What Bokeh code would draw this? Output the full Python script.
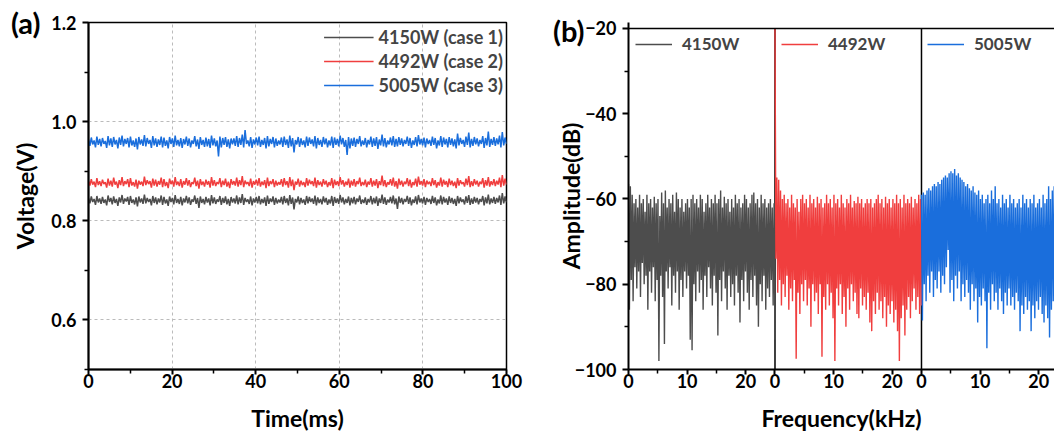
import numpy as np
from bokeh.plotting import figure
from bokeh.layouts import row
from bokeh.models import (FixedTicker, Legend, LegendItem, Span, LinearAxis, Range1d,
                          PrintfTickFormatter)
from bokeh.embed import file_html
from bokeh.resources import INLINE

FONT = "Lato"
C_BLACK = "#4D4D4D"
C_RED = "#F03E3E"
C_BLUE = "#1A6EDC"

# ---------------- panel (a) data: voltage (V), 300 samples over 0-100 ms ----------------
v_4150 = [
    0.846, 0.835, 0.849, 0.838, 0.844, 0.832, 0.850, 0.837, 0.845, 0.834,
    0.848, 0.836, 0.843, 0.831, 0.851, 0.838, 0.846, 0.833, 0.849, 0.836,
    0.844, 0.830, 0.847, 0.837, 0.852, 0.834, 0.845, 0.839, 0.848, 0.832,
    0.850, 0.836, 0.843, 0.833, 0.847, 0.829, 0.849, 0.837, 0.845, 0.834,
    0.853, 0.835, 0.846, 0.838, 0.844, 0.831, 0.850, 0.836, 0.847, 0.833,
    0.845, 0.837, 0.851, 0.832, 0.848, 0.835, 0.843, 0.830, 0.849, 0.838,
    0.846, 0.833, 0.852, 0.836, 0.844, 0.834, 0.848, 0.831, 0.845, 0.837,
    0.850, 0.835, 0.847, 0.832, 0.843, 0.838, 0.851, 0.834, 0.846, 0.826,
    0.849, 0.836, 0.844, 0.833, 0.848, 0.837, 0.845, 0.831, 0.852, 0.835,
    0.847, 0.834, 0.843, 0.838, 0.850, 0.832, 0.846, 0.836, 0.849, 0.833,
    0.844, 0.830, 0.848, 0.837, 0.845, 0.835, 0.851, 0.833, 0.847, 0.836,
    0.854, 0.832, 0.846, 0.838, 0.843, 0.834, 0.849, 0.831, 0.845, 0.837,
    0.848, 0.835, 0.850, 0.833, 0.844, 0.836, 0.847, 0.830, 0.851, 0.834,
    0.845, 0.838, 0.849, 0.832, 0.846, 0.835, 0.843, 0.837, 0.848, 0.833,
    0.850, 0.836, 0.845, 0.831, 0.852, 0.834, 0.847, 0.823, 0.844, 0.837,
    0.849, 0.833, 0.846, 0.836, 0.843, 0.832, 0.850, 0.835, 0.848, 0.838,
    0.845, 0.834, 0.851, 0.831, 0.847, 0.836, 0.844, 0.833, 0.849, 0.837,
    0.846, 0.832, 0.843, 0.835, 0.850, 0.830, 0.848, 0.836, 0.845, 0.834,
    0.852, 0.837, 0.847, 0.833, 0.844, 0.836, 0.849, 0.831, 0.846, 0.835,
    0.848, 0.833, 0.845, 0.838, 0.851, 0.834, 0.843, 0.836, 0.847, 0.832,
    0.844, 0.837, 0.850, 0.833, 0.846, 0.835, 0.849, 0.830, 0.845, 0.836,
    0.853, 0.834, 0.847, 0.832, 0.843, 0.837, 0.848, 0.835, 0.851, 0.833,
    0.845, 0.824, 0.849, 0.836, 0.846, 0.833, 0.844, 0.838, 0.850, 0.834,
    0.847, 0.831, 0.843, 0.836, 0.849, 0.833, 0.852, 0.837, 0.845, 0.835,
    0.848, 0.832, 0.846, 0.838, 0.844, 0.834, 0.850, 0.836, 0.847, 0.831,
    0.843, 0.835, 0.851, 0.833, 0.848, 0.837, 0.845, 0.832, 0.849, 0.836,
    0.846, 0.834, 0.844, 0.830, 0.850, 0.835, 0.847, 0.838, 0.843, 0.833,
    0.849, 0.836, 0.852, 0.832, 0.845, 0.834, 0.848, 0.837, 0.846, 0.833,
    0.844, 0.838, 0.850, 0.831, 0.847, 0.835, 0.853, 0.833, 0.845, 0.836,
    0.848, 0.834, 0.846, 0.837, 0.851, 0.832, 0.856, 0.835, 0.849, 0.837,
]
v_4492 = [
    0.881, 0.871, 0.884, 0.873, 0.879, 0.868, 0.886, 0.872, 0.880, 0.870,
    0.883, 0.874, 0.878, 0.867, 0.885, 0.871, 0.881, 0.869, 0.887, 0.873,
    0.879, 0.866, 0.882, 0.872, 0.888, 0.870, 0.880, 0.874, 0.884, 0.868,
    0.886, 0.871, 0.878, 0.869, 0.883, 0.865, 0.881, 0.873, 0.879, 0.870,
    0.889, 0.872, 0.882, 0.874, 0.880, 0.867, 0.885, 0.871, 0.883, 0.869,
    0.880, 0.873, 0.887, 0.868, 0.884, 0.870, 0.878, 0.866, 0.885, 0.874,
    0.881, 0.869, 0.888, 0.872, 0.879, 0.870, 0.884, 0.867, 0.880, 0.873,
    0.886, 0.871, 0.882, 0.868, 0.878, 0.874, 0.887, 0.870, 0.881, 0.865,
    0.884, 0.872, 0.879, 0.869, 0.883, 0.873, 0.880, 0.867, 0.888, 0.871,
    0.882, 0.870, 0.878, 0.874, 0.886, 0.868, 0.881, 0.872, 0.885, 0.869,
    0.879, 0.866, 0.884, 0.873, 0.880, 0.871, 0.887, 0.869, 0.882, 0.872,
    0.890, 0.868, 0.881, 0.874, 0.878, 0.870, 0.885, 0.867, 0.880, 0.873,
    0.883, 0.871, 0.886, 0.869, 0.879, 0.872, 0.882, 0.866, 0.887, 0.870,
    0.880, 0.874, 0.884, 0.868, 0.881, 0.871, 0.878, 0.873, 0.884, 0.869,
    0.886, 0.872, 0.880, 0.867, 0.888, 0.870, 0.883, 0.862, 0.879, 0.873,
    0.885, 0.869, 0.881, 0.872, 0.878, 0.868, 0.886, 0.871, 0.883, 0.874,
    0.880, 0.870, 0.887, 0.867, 0.882, 0.872, 0.879, 0.869, 0.884, 0.873,
    0.881, 0.868, 0.878, 0.871, 0.886, 0.866, 0.883, 0.872, 0.880, 0.870,
    0.888, 0.873, 0.882, 0.869, 0.879, 0.872, 0.885, 0.867, 0.881, 0.871,
    0.884, 0.869, 0.880, 0.874, 0.887, 0.870, 0.878, 0.872, 0.883, 0.868,
    0.879, 0.873, 0.886, 0.869, 0.881, 0.871, 0.884, 0.866, 0.880, 0.872,
    0.891, 0.870, 0.882, 0.868, 0.878, 0.873, 0.884, 0.871, 0.887, 0.869,
    0.880, 0.865, 0.885, 0.872, 0.881, 0.869, 0.879, 0.874, 0.886, 0.870,
    0.883, 0.867, 0.878, 0.872, 0.885, 0.869, 0.889, 0.873, 0.880, 0.871,
    0.884, 0.868, 0.881, 0.874, 0.879, 0.870, 0.886, 0.872, 0.882, 0.867,
    0.878, 0.871, 0.887, 0.869, 0.883, 0.873, 0.880, 0.868, 0.885, 0.872,
    0.881, 0.870, 0.879, 0.866, 0.886, 0.871, 0.882, 0.874, 0.878, 0.869,
    0.885, 0.872, 0.890, 0.868, 0.880, 0.870, 0.884, 0.873, 0.881, 0.869,
    0.879, 0.874, 0.886, 0.867, 0.882, 0.871, 0.888, 0.869, 0.880, 0.872,
    0.884, 0.870, 0.881, 0.873, 0.887, 0.868, 0.892, 0.871, 0.885, 0.873,
]
v_5005 = [
    0.964, 0.951, 0.968, 0.954, 0.962, 0.948, 0.970, 0.953, 0.965, 0.950,
    0.967, 0.955, 0.961, 0.947, 0.971, 0.952, 0.966, 0.949, 0.969, 0.954,
    0.963, 0.946, 0.968, 0.953, 0.972, 0.950, 0.965, 0.955, 0.967, 0.948,
    0.970, 0.952, 0.962, 0.949, 0.966, 0.944, 0.969, 0.954, 0.964, 0.951,
    0.973, 0.950, 0.967, 0.955, 0.963, 0.947, 0.971, 0.952, 0.966, 0.949,
    0.964, 0.953, 0.970, 0.948, 0.968, 0.951, 0.962, 0.946, 0.969, 0.955,
    0.966, 0.949, 0.972, 0.952, 0.963, 0.950, 0.967, 0.947, 0.965, 0.954,
    0.970, 0.951, 0.966, 0.948, 0.962, 0.955, 0.971, 0.950, 0.964, 0.945,
    0.969, 0.953, 0.963, 0.949, 0.968, 0.950, 0.965, 0.947, 0.972, 0.952,
    0.966, 0.950, 0.962, 0.930, 0.970, 0.948, 0.967, 0.953, 0.969, 0.949,
    0.964, 0.946, 0.966, 0.954, 0.966, 0.951, 0.971, 0.949, 0.967, 0.953,
    0.974, 0.948, 0.983, 0.955, 0.962, 0.950, 0.969, 0.947, 0.964, 0.954,
    0.968, 0.952, 0.970, 0.949, 0.963, 0.953, 0.967, 0.946, 0.971, 0.950,
    0.965, 0.955, 0.969, 0.948, 0.966, 0.951, 0.962, 0.954, 0.968, 0.949,
    0.970, 0.953, 0.964, 0.947, 0.972, 0.950, 0.967, 0.938, 0.963, 0.954,
    0.969, 0.949, 0.966, 0.953, 0.962, 0.948, 0.970, 0.951, 0.968, 0.955,
    0.964, 0.950, 0.971, 0.946, 0.967, 0.953, 0.963, 0.949, 0.969, 0.954,
    0.966, 0.948, 0.962, 0.952, 0.970, 0.947, 0.968, 0.953, 0.965, 0.950,
    0.972, 0.954, 0.967, 0.949, 0.963, 0.933, 0.969, 0.946, 0.966, 0.951,
    0.968, 0.949, 0.965, 0.955, 0.971, 0.950, 0.962, 0.953, 0.967, 0.948,
    0.963, 0.954, 0.970, 0.949, 0.966, 0.951, 0.969, 0.945, 0.964, 0.952,
    0.974, 0.950, 0.967, 0.948, 0.962, 0.954, 0.968, 0.952, 0.971, 0.949,
    0.965, 0.950, 0.969, 0.953, 0.966, 0.950, 0.963, 0.955, 0.970, 0.951,
    0.967, 0.947, 0.962, 0.953, 0.969, 0.950, 0.973, 0.954, 0.965, 0.952,
    0.968, 0.948, 0.966, 0.955, 0.963, 0.951, 0.970, 0.953, 0.967, 0.946,
    0.962, 0.952, 0.971, 0.949, 0.968, 0.954, 0.965, 0.948, 0.969, 0.953,
    0.966, 0.950, 0.964, 0.946, 0.976, 0.952, 0.967, 0.955, 0.963, 0.949,
    0.970, 0.953, 0.978, 0.948, 0.965, 0.951, 0.969, 0.954, 0.966, 0.950,
    0.963, 0.955, 0.971, 0.947, 0.967, 0.952, 0.980, 0.949, 0.965, 0.953,
    0.969, 0.951, 0.966, 0.954, 0.972, 0.948, 0.979, 0.952, 0.968, 0.955,
]
labels_a = ["4150W (case 1)", "4492W (case 2)", "5005W (case 3)"]
x_ticks_a = [0, 20, 40, 60, 80, 100]
x_minor_a = [10, 30, 50, 70, 90]
y_ticks_a = [0.6, 0.8, 1.0, 1.2]
y_minor_a = [0.5, 0.7, 0.9, 1.1]

# ---------------- panel (b) data: spectrum amplitude (dB), 0-25 kHz per sub-panel ----------------
amp_4150 = [
    -56.5, -86, -57, -79, -59, -84, -61, -76, -60, -81, -62, -77, -59, -83, -61, -75,
    -60, -80, -63, -78, -59, -86, -61, -77, -60, -82, -62, -76, -59.5, -84, -61, -79,
    -60, -98, -64, -78, -58.5, -83, -61, -94, -58, -77, -62, -81, -60, -76, -61, -85,
    -59, -78, -63, -82, -58.5, -77, -60, -86, -62, -79, -60, -83, -63, -77, -61, -81,
    -60, -78, -62, -93, -60, -95.5, -59, -80, -61, -84, -60, -77, -62, -82, -59, -79,
    -60, -86, -63, -78, -61, -83, -59, -76, -62, -81, -60, -85, -61, -78, -59, -82,
    -61, -92, -60, -79, -58, -84, -62, -77, -59.5, -81, -61, -86, -60, -78, -63, -83,
    -60, -80, -62, -85, -59, -78, -61, -82, -60, -89, -62, -79, -61, -84, -59, -77,
    -60, -82, -62, -86, -61, -79, -59, -83, -58.5, -78, -61, -85, -60, -90, -62, -80,
    -59, -84, -61, -78, -60, -86, -62, -81, -61, -83, -60, -79, -62, -85, -61, -93,
]
amp_4492 = [
    -20, -74, -55, -82, -55.5, -79, -58, -85, -60, -80, -59, -83, -61, -78, -60, -86,
    -62, -81, -59, -84, -61, -79, -62, -97.5, -60, -82, -63, -87, -60, -80, -59, -84,
    -61, -79, -60, -85, -62, -81, -59, -90, -61, -80, -60, -84, -62, -82, -59.5, -87,
    -61, -80, -60, -97, -62, -83, -61, -86, -59, -80, -61, -85, -60, -82, -62, -88,
    -59, -98, -61, -81, -60, -85, -62, -80, -59, -87, -61, -83, -62, -90, -60, -81,
    -61, -86, -59, -80, -62, -84, -60.5, -82, -61, -87, -59.5, -88, -61, -81, -60, -85,
    -62, -83, -61, -86, -60, -82, -61, -89, -60, -91, -62, -84, -61, -87, -60, -82,
    -59, -86, -61, -84, -60, -88, -62, -83, -59.5, -90, -61, -85, -60, -87, -62, -84,
    -60, -89, -61, -86, -59, -91, -61, -98, -60, -88, -62, -85, -59, -92, -61, -86,
    -60, -83, -61, -88, -59.5, -84, -62, -81, -60, -86, -61, -83, -59, -87, -60, -85,
]
amp_5005 = [
    -59, -88.5, -58.5, -80, -59, -84, -58, -78, -57.5, -82, -58, -77, -57, -83, -56.5, -79,
    -57, -81, -56, -77, -56.5, -82, -55.5, -78, -55, -80, -54.5, -76, -55, -72, -54, -82,
    -53.5, -79, -54, -84, -53, -78, -54.5, -81, -54, -77, -55, -84, -55.5, -80, -56, -83,
    -57, -79, -56.5, -82, -57.5, -86, -58, -80, -57, -84, -58.5, -81, -59, -89, -58, -83,
    -60, -85, -59, -81, -61, -84, -60, -95, -59, -82, -61, -86, -58, -80, -60, -84,
    -57, -82, -61, -86, -60, -81, -62, -84, -59, -87, -61, -82, -60, -85, -62, -81,
    -59, -85, -61, -83, -60, -86, -62, -82, -61, -84, -60, -91, -62, -85, -59, -87,
    -61, -83, -60, -86, -62, -84, -60, -91, -61, -85, -59, -88, -62, -84, -61, -86,
    -60, -83, -62, -87, -59, -89, -61, -85, -60, -88, -57, -92.5, -60, -86, -58, -84,
    -57, -87, -58, -81,
]
labels_b = ["4150W", "4492W", "5005W"]
seg_span = 25.0               # kHz per sub-panel
freq_step = 25.0 / 159        # spacing of spectrum samples (kHz)
y_min_b, y_max_b = -100, -20
y_ticks_b = [-100, -80, -60, -40, -20]
y_minor_b = [-90, -70, -50, -30]
x_ticks_b = [0, 10, 20, 25, 35, 45, 50, 60, 70]
x_tick_labels_b = ["0", "10", "20", "0", "10", "20", "0", "10", "20"]
x_minor_b = [5, 15, 30, 40, 55, 65]

H = 436
TOP = 22
BOTTOM = 67


def style_axes(p):
    for ax in (p.xaxis[0], p.yaxis[0]):
        ax.axis_line_width = 2
        ax.axis_line_color = "black"
        ax.major_tick_line_width = 2
        ax.minor_tick_line_width = 1.5
        ax.major_tick_in = 0
        ax.minor_tick_in = 0
        ax.minor_tick_out = 4
        ax.major_label_text_font = FONT
        ax.major_label_text_font_style = "bold"
        ax.major_label_text_font_size = "18px"
        ax.major_label_text_color = "black"
        ax.axis_label_text_font = FONT
        ax.axis_label_text_font_style = "bold"
        ax.axis_label_text_font_size = "23px"
        ax.axis_label_text_color = "black"
    p.xaxis.major_tick_out = 5
    p.xaxis.major_label_standoff = -1
    p.xaxis.axis_label_standoff = 13
    p.yaxis.major_tick_out = 6
    p.yaxis.major_label_standoff = 6


def tag_axis(tick, text, standoff):
    return LinearAxis(ticker=FixedTicker(ticks=[tick]), major_label_overrides={tick: text},
                      axis_line_color=None, major_tick_line_color=None, minor_tick_line_color=None,
                      major_tick_in=0, major_tick_out=0, minor_tick_in=0, minor_tick_out=0,
                      major_label_standoff=standoff, major_label_text_font=FONT,
                      major_label_text_font_style="bold", major_label_text_font_size="29px",
                      major_label_text_color="black")


# ---------------- panel (a) ----------------
p1 = figure(width=540, height=H, x_range=Range1d(0, 100), y_range=Range1d(0.5, 1.2),
            output_backend="svg", toolbar_location=None,
            min_border_left=88, min_border_right=34, min_border_top=TOP, min_border_bottom=BOTTOM)
p1.outline_line_color = "black"
p1.outline_line_width = 1.5
style_axes(p1)
p1.xaxis.ticker = FixedTicker(ticks=x_ticks_a, minor_ticks=x_minor_a)
p1.yaxis.ticker = FixedTicker(ticks=y_ticks_a, minor_ticks=y_minor_a)
p1.yaxis.formatter = PrintfTickFormatter(format="%.1f")
p1.xaxis.axis_label = "Time(ms)"
p1.yaxis.axis_label = "Voltage(V)"
p1.yaxis.axis_label_standoff = 9
p1.xgrid.ticker = FixedTicker(ticks=x_ticks_a)
p1.ygrid.ticker = FixedTicker(ticks=y_ticks_a)
for g in (p1.xgrid[0], p1.ygrid[0]):
    g.grid_line_color = "#BBBBBB"
    g.grid_line_dash = "3 3"
    g.grid_line_width = 1
p1.add_layout(tag_axis(1.2, "(a)", -32), "left")

t_a = np.linspace(0, 100, len(v_4150))
r1 = p1.line(t_a, v_4150, line_color=C_BLACK, line_width=1.5)
r2 = p1.line(t_a, v_4492, line_color=C_RED, line_width=1.5)
r3 = p1.line(t_a, v_5005, line_color=C_BLUE, line_width=1.5)
leg_a = Legend(items=[LegendItem(label=labels_a[0], renderers=[r1]),
                      LegendItem(label=labels_a[1], renderers=[r2]),
                      LegendItem(label=labels_a[2], renderers=[r3])],
               location="top_right", margin=3, padding=3, spacing=0,
               glyph_width=50, glyph_height=24, label_height=24, label_standoff=5,
               label_text_font=FONT, label_text_font_style="bold", label_text_font_size="18px",
               background_fill_alpha=0, border_line_color=None)
p1.add_layout(leg_a)

# ---------------- panel (b) ----------------
px_per_db = 347 / 80.0
p2 = figure(width=514, height=H, x_range=Range1d(0, 72.7),
            y_range=Range1d(y_min_b, y_max_b + (28 - TOP) / px_per_db),
            output_backend="svg", toolbar_location=None,
            min_border_left=88, min_border_right=0, min_border_top=TOP, min_border_bottom=BOTTOM)
p2.outline_line_color = None
p2.grid.visible = False
style_axes(p2)
p2.xaxis.ticker = FixedTicker(ticks=x_ticks_b, minor_ticks=x_minor_b)
p2.xaxis.major_label_overrides = {t: s for t, s in zip(x_ticks_b, x_tick_labels_b)}
p2.yaxis.ticker = FixedTicker(ticks=y_ticks_b, minor_ticks=y_minor_b)
p2.xaxis.axis_label = "Frequency(kHz)"
p2.yaxis.axis_label = "Amplitude(dB)"
p2.yaxis.axis_label_standoff = -13
p2.add_layout(tag_axis(-20.5, "(b)", -31), "left")
p2.add_layout(Span(location=y_max_b, dimension="width", line_color="black", line_width=1.5))

# sub-panel dividers
p2.segment(x0=[seg_span, 2 * seg_span], y0=[y_min_b, y_min_b],
           x1=[seg_span, 2 * seg_span], y1=[y_max_b, y_max_b],
           line_color="black", line_width=1.5)

f_black = np.arange(len(amp_4150)) * freq_step
f_red = seg_span + np.arange(len(amp_4492)) * freq_step
f_blue = 2 * seg_span + np.arange(len(amp_5005)) * freq_step
b1 = p2.line(f_black, amp_4150, line_color=C_BLACK, line_width=1.4)
b2 = p2.line(f_red, amp_4492, line_color=C_RED, line_width=1.4)
b3 = p2.line(f_blue, amp_5005, line_color=C_BLUE, line_width=1.4)

for rend, lab, xoff in ((b1, labels_b[0], 7), (b2, labels_b[1], 153), (b3, labels_b[2], 299)):
    lg = Legend(items=[LegendItem(label=lab, renderers=[rend])],
                location=(xoff, 347 - 20 - 12), margin=0, padding=2, spacing=0,
                glyph_width=37, glyph_height=20, label_height=20, label_standoff=10,
                label_text_font=FONT, label_text_font_style="bold", label_text_font_size="17px",
                background_fill_alpha=0, border_line_color=None)
    p2.add_layout(lg)

layout = row(p1, p2)
open("out.html", "w").write(file_html(layout, INLINE))
